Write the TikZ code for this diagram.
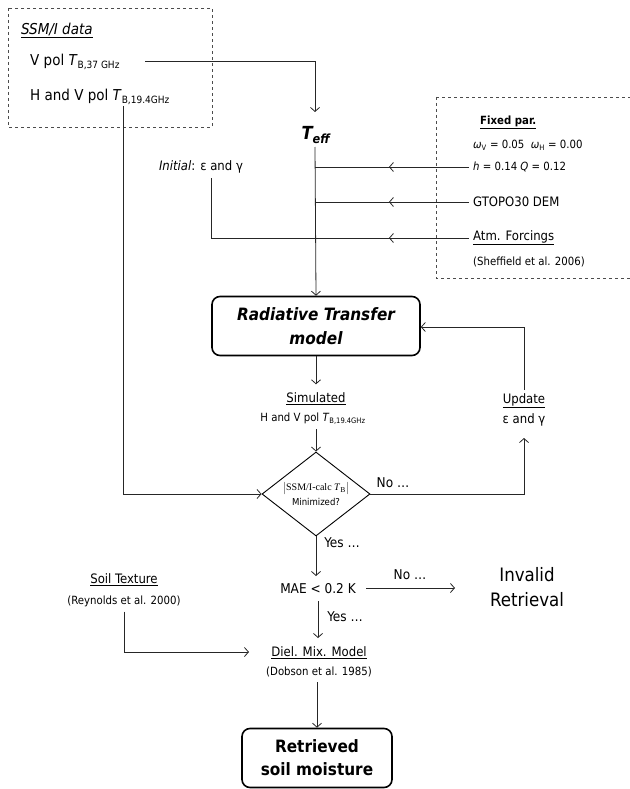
\documentclass[tikz,border=0pt]{standalone}
\usepackage{fontspec}
\setmainfont{DejaVu Sans Condensed}
\newfontfamily\seriffont{Liberation Serif}
\usetikzlibrary{arrows.meta,shapes.geometric,decorations.markings}
\newcommand{\subsm}[1]{\textsubscript{\fontsize{10}{11}\selectfont #1}}
\newcommand{\subxs}[1]{\textsubscript{\fontsize{7.5}{8}\selectfont #1}}
\begin{document}
\begin{tikzpicture}[x=1pt,y=-1pt,
  line/.style={line width=0.8pt,draw=black!85},
  arr/.style={line,-{Straight Barb[length=4pt,width=9pt,line width=0.8pt]}},
  midarr/.style={line,postaction={decorate},decoration={markings,
     mark=at position #1 with {\arrow{Straight Barb[length=4pt,width=9pt,line width=0.8pt]}}}},
  txt/.style={inner sep=0pt,align=center},
  fs/.style={font=\fontsize{11.3}{13}\selectfont},
  fm/.style={font=\fontsize{13}{15}\selectfont},
  fl/.style={font=\fontsize{13.5}{16}\selectfont},
  fx/.style={font=\fontsize{15}{17}\selectfont},
  dbox/.style={draw=black!70,dashed,line width=0.8pt},
  rbox/.style={draw=black,line width=1.6pt,rounded corners=8pt,inner sep=0pt,align=center}
]
\useasboundingbox (0,0) rectangle (629,789);

% dashed boxes
\draw[dbox] (8,8) rectangle (212,127);
\draw[dbox] (436,97) -- (640,97) (436,97) -- (436,278) -- (640,278);

% SSM/I data
\node[txt,fx,anchor=west] (ssm) at (21,30) {\underline{\textit{SSM/I data}}};
\node[txt,fx,anchor=west] (vpol) at (30,62) {V pol \textit{T}\subsm{B,37 GHz}};
\node[txt,fx,anchor=west] (hvpol) at (30,97) {H and V pol \textit{T}\subsm{B,19.4GHz}};

% T_eff
\node[txt,anchor=center,font=\fontsize{18}{20}\selectfont\bfseries\itshape] (teff) at (316,135) {T\textsubscript{eff}};

% fixed parameters
\node[txt,fs,anchor=west] (fixed) at (480,122) {\textbf{\underline{Fixed par.}}};
\node[txt,fs,anchor=west] (omega) at (473,145) {\textit{ω}\subxs{V} = 0.05\ \ \textit{ω}\subxs{H} = 0.00};
\node[txt,fs,anchor=west] (hq) at (473,167) {\textit{h} = 0.14 \textit{Q} = 0.12};
\node[txt,fm,anchor=west] (gtopo) at (473,202) {GTOPO30 DEM};
\node[txt,fm,anchor=west] (atm) at (473,238) {\underline{Atm. Forcings}};
\node[txt,fs,anchor=west] (sheff) at (473,262) {(Sheffield et al. 2006)};

\node[txt,fm] (init) at (201,167) {\textit{Initial}: ε and γ};

% RT model
\node[rbox,minimum width=208pt,minimum height=59pt,font=\fontsize{17}{24}\selectfont\bfseries\itshape] (rt) at (316,326) {Radiative Transfer\\model};

\node[txt,fm] (sim) at (316,399) {\underline{Simulated}};
\node[txt,fs] (simtb) at (313,419) {H and V pol \textit{T}\subxs{B,19.4GHz}};

% decision
\node[draw=black,line width=0.9pt,shape=diamond,minimum width=108pt,minimum height=84pt,inner sep=0pt] (dia) at (316,494) {};
\node[txt,font=\fontsize{9.5}{15}\selectfont] (diatxt) at (316,494) {{\seriffont\fontsize{10}{11}\selectfont$\bigl|$SSM/I-calc \textit{T}\subxs{B}$\bigr|$}\\Minimized?};

\node[txt,fl] (no1) at (393,483) {No …};
\node[txt,fm] (upd) at (524,401) {\underline{Update}};
\node[txt,fm] (upeg) at (524,420) {ε and γ};

\node[txt,fl] (yes1) at (342,543) {Yes …};
\node[txt,fl] (mae) at (318,589) {MAE < 0.2 K};
\node[txt,fl] (no2) at (410,575) {No …};
\node[txt,font=\fontsize{18.5}{25}\selectfont] (inval) at (527,587) {Invalid\\Retrieval};
\node[txt,fl] (yes2) at (345,617) {Yes …};

\node[txt,fm] (diel) at (319,653) {\underline{Diel. Mix. Model}};
\node[txt,fs] (dob) at (319,672) {(Dobson et al. 1985)};
\node[txt,fm] (soil) at (124,580) {\underline{Soil Texture}};
\node[txt,fs] (reyn) at (124,601) {(Reynolds et al. 2000)};

\node[rbox,minimum width=150pt,minimum height=59pt,font=\fontsize{17}{23}\selectfont\bfseries] (ret) at (317,758) {Retrieved\\soil moisture};

% coordinates
\coordinate (vpolE) at (145,61);
\coordinate (c1) at (315,61);
\coordinate (teffT) at (315,112);
\coordinate (teffB) at (315,147);
\coordinate (j1) at (315,167);
\coordinate (j2) at (315,202);
\coordinate (j3) at (315,238);
\coordinate (s1) at (469,167);
\coordinate (s2) at (469,202);
\coordinate (s3) at (469,238);
\coordinate (ic) at (211,238);
\coordinate (hvB) at (123,106);
\coordinate (hvC) at (123,494);

% connectors
\draw[arr] (vpolE) -- (c1) -- (teffT);
\draw[arr] (teffB) -- (rt.north);
\draw[midarr=0.52] (s1) -- (j1);
\draw[midarr=0.52] (s2) -- (j2);
\draw[midarr=0.52] (s3) -- (j3);
\draw[line] (211,178) -- (ic) -- (j3);
\draw[arr] (hvB) -- (hvC) -- (dia.west);
\draw[arr] (rt.south) -- ++(0,28);
\draw[arr] (316,429) -- (dia.north);
\draw[arr] (dia.east) -- (524,494) -- (524,438);
\draw[arr] (524,390) -- (524,327) -- (rt.east |- 0,327);
\draw[arr] (dia.south) -- (316,576);
\draw[arr] (366,588) -- (455,588);
\draw[arr] (318,601) -- (318,638);
\draw[arr] (reyn.south) ++(0,5) -- (124,652) -- (249,652);
\draw[arr] (ret.north |- dob.south) ++(0,5) -- (ret.north);
\end{tikzpicture}
\end{document}
